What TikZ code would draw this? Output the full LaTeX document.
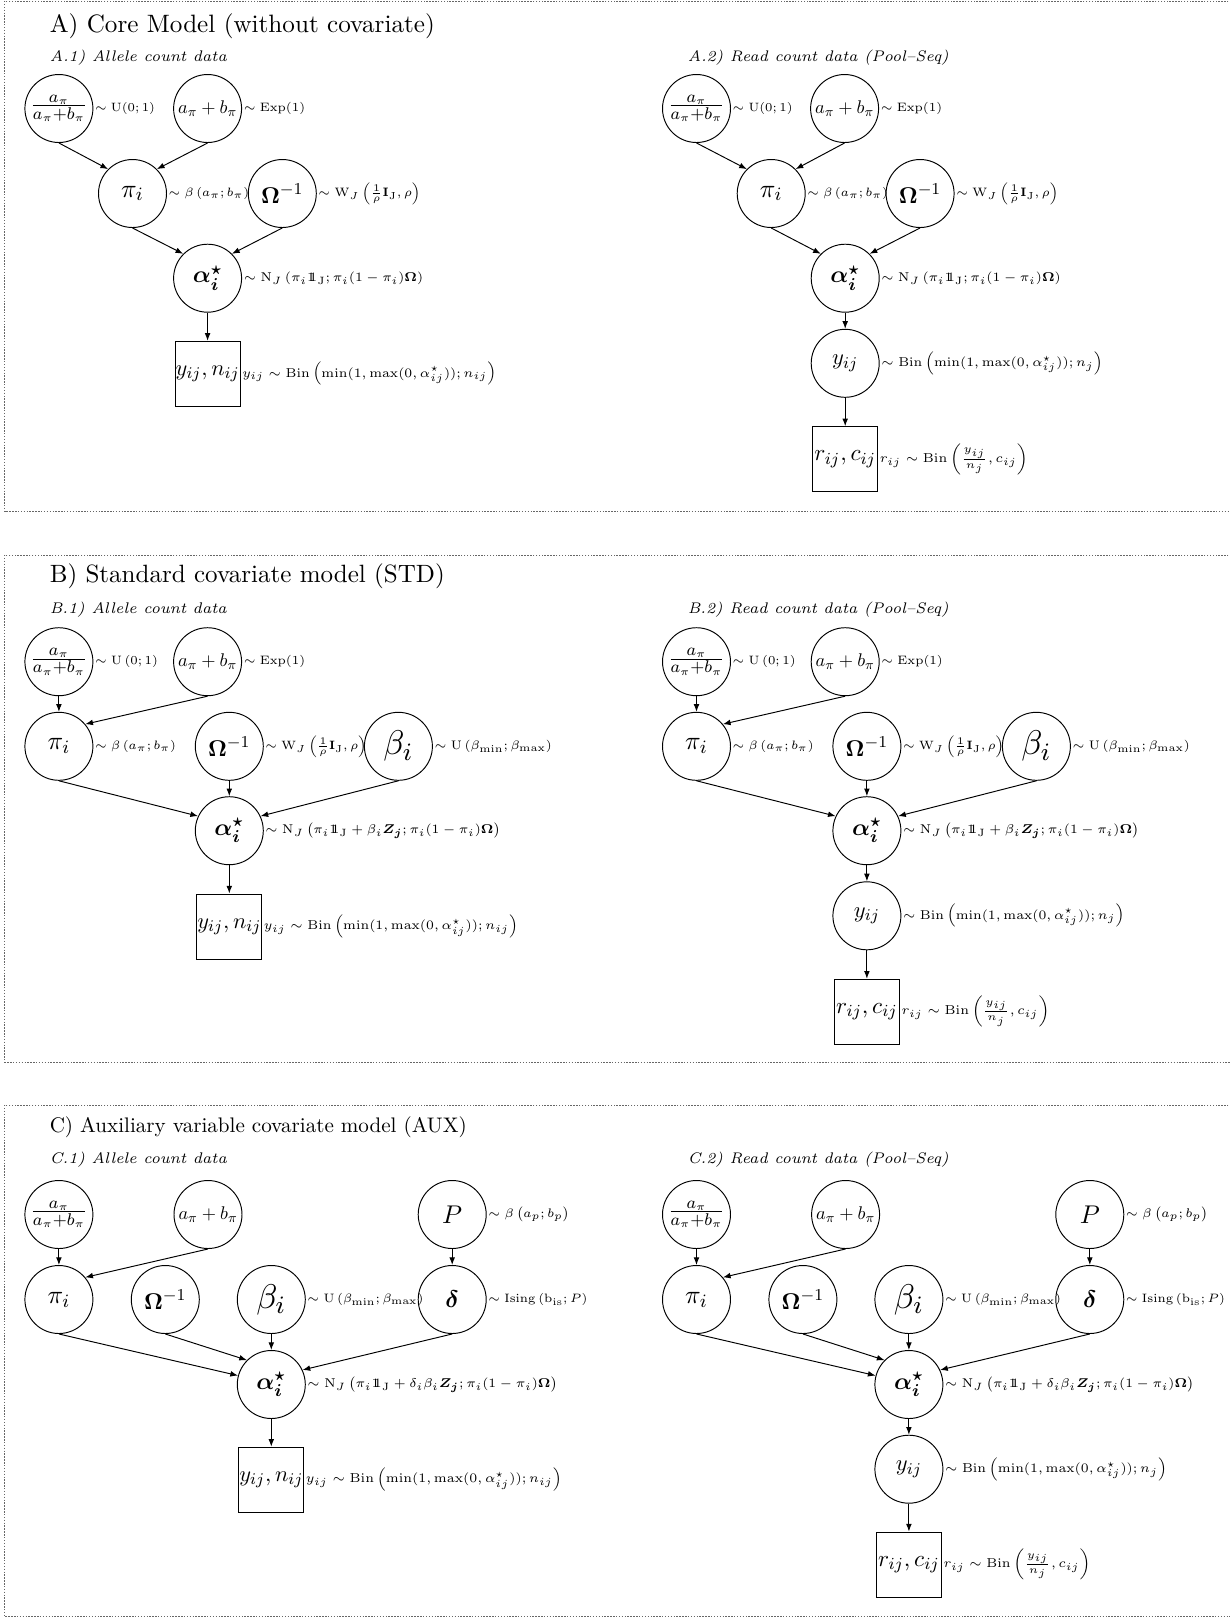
\documentclass[tikz,border=0pt]{standalone}
\usepackage{amsmath}
\usepackage{graphicx}
\usetikzlibrary{arrows.meta}
\newdimen\mypx \mypx=0.41667pt
\newcommand{\fw}[2]{\resizebox{#1\mypx}{!}{#2}}
\newcommand{\myfs}[1]{\fontsize{#1}{#1}\selectfont}
\newcommand{\bbone}{\mathrm{1\!\!1}}
\newcommand{\LUa}{$\sim\mathrm{U}(0;1)$}
\newcommand{\LUb}{$\sim\mathrm{U}\left(0;1\right)$}
\newcommand{\LExp}{$\sim\mathrm{Exp}(1)$}
\newcommand{\LBeta}{$\sim\beta\left(a_\pi;b_\pi\right)$}
\newcommand{\LW}{$\sim\mathrm{W}_J\left(\frac{1}{\rho}\mathbf{I}_\mathrm{J},\rho\right)$}
\newcommand{\LNa}{$\sim\mathrm{N}_J\left(\pi_i\bbone_\mathrm{J};\pi_i(1-\pi_i)\boldsymbol{\Omega}\right)$}
\newcommand{\LNb}{$\sim\mathrm{N}_J\left(\pi_i\bbone_\mathrm{J}+\beta_i\boldsymbol{Z_j};\pi_i(1-\pi_i)\boldsymbol{\Omega}\right)$}
\newcommand{\LNc}{$\sim\mathrm{N}_J\left(\pi_i\bbone_\mathrm{J}+\delta_i\beta_i\boldsymbol{Z_j};\pi_i(1-\pi_i)\boldsymbol{\Omega}\right)$}
\newcommand{\LBinA}{$y_{ij}\sim\mathrm{Bin}\left(\min(1,\max(0,\alpha^\star_{ij}));n_{ij}\right)$}
\newcommand{\LBinB}{$\sim\mathrm{Bin}\left(\min(1,\max(0,\alpha^\star_{ij}));n_j\right)$}
\newcommand{\LR}{$r_{ij}\sim\mathrm{Bin}\left(\frac{y_{ij}}{n_j},c_{ij}\right)$}
\newcommand{\LUbeta}{$\sim\mathrm{U}\left(\beta_{\min};\beta_{\max}\right)$}
\newcommand{\LP}{$\sim\beta\left(a_p;b_p\right)$}
\newcommand{\LIsing}{$\sim\mathrm{Ising}\left(\mathrm{b_{is}};P\right)$}
\newcommand{\TFrac}{\fw{57}{$\frac{a_\pi}{a_\pi+b_\pi}$}}
\newcommand{\TAB}{\fw{59}{$a_\pi+b_\pi$}}
\newcommand{\TPi}{\fw{22.7}{$\pi_i$}}
\newcommand{\TOm}{\fw{42.5}{$\boldsymbol{\Omega}^{-1}$}}
\newcommand{\TAl}{\fw{29.7}{$\boldsymbol{\alpha_i^\star}$}}
\newcommand{\TYN}{\fw{64}{$y_{ij},n_{ij}$}}
\newcommand{\TY}{\fw{26}{$y_{ij}$}}
\newcommand{\TRC}{\fw{61.5}{$r_{ij},c_{ij}$}}
\newcommand{\TBe}{\fw{30}{$\beta_i$}}
\newcommand{\TP}{\fw{20}{$P$}}
\newcommand{\TDe}{\fw{13.5}{$\boldsymbol{\delta}$}}
\begin{document}
\begin{tikzpicture}[x=0.41667pt,y=-0.41667pt,
 lat/.style={draw,circle,minimum size=28.33pt,inner sep=0pt,font=\myfs{11}},
 obs/.style={draw,rectangle,minimum size=27.08pt,inner sep=0pt,font=\myfs{11}},
 lbl/.style={anchor=west,inner sep=0.5pt,font=\myfs{6}},
 ttl/.style={anchor=base west,inner sep=0pt,font=\myfs{10}},
 subt/.style={anchor=base west,inner sep=0pt,font=\myfs{7}\itshape},
 edge/.style={-{Latex[length=3.2pt,width=2.4pt]}},
 panel/.style={draw=black!60,line width=0.3pt,dash pattern=on 0.6pt off 0.6pt}]
\useasboundingbox (0,0) rectangle (1230,1618);

% ---------- panel frames
\draw[panel] (1240,1) -- (4.5,1) -- (4.5,511.7) -- (1240,511.7);
\draw[panel] (1240,555) -- (4.5,555) -- (4.5,1062) -- (1240,1062);
\draw[panel] (1240,1105) -- (4.5,1105) -- (4.5,1616.7) -- (1240,1616.7);

% ================= A =================
\node[ttl] (tA) at (49.3,32) {\fw{385}{A) Core Model (without covariate)}};
\node[subt] (sA1) at (49.3,61.5) {\fw{177}{A.1) Allele count data}};
\node[subt] (sA2) at (687.3,61.5) {\fw{261}{A.2) Read count data (Pool--Seq)}};

% A.1
\node[lat] (fA1) at (58.9,108.5) {\TFrac};
\node[lat] (bA1) at (207.6,108.5) {\TAB};
\node[lat] (pA1) at (132.5,193.5) {\TPi};
\node[lat] (oA1) at (282.3,193.5) {\TOm};
\node[lat] (aA1) at (207.6,278.2) {\TAl};
\node[obs] (dA1) at (207.6,373.8) {\TYN};
\node[lbl] (lfA1) at (fA1.east) {\fw{60}{\LUa}};
\node[lbl] (lbA1) at (bA1.east) {\fw{61.5}{\LExp}};
\node[lbl] (lpA1) at (pA1.east) {\fw{80.5}{\LBeta}};
\node[lbl] (loA1) at (oA1.east) {\fw{102}{\LW}};
\node[lbl] (laA1) at (aA1.east) {\fw{179.5}{\LNa}};
\node[lbl] (ldA1) at (dA1.east) {\fw{254}{\LBinA}};
\draw[edge] (fA1.south) -- (pA1.north west);
\draw[edge] (bA1.south) -- (pA1.north east);
\draw[edge] (pA1.south) -- (aA1.north west);
\draw[edge] (oA1.south) -- (aA1.north east);
\draw[edge] (aA1.south) -- (dA1.north);

% A.2
\node[lat] (fA2) at (696.5,108.5) {\TFrac};
\node[lat] (bA2) at (844.6,108.5) {\TAB};
\node[lat] (pA2) at (771.2,193.5) {\TPi};
\node[lat] (oA2) at (920.1,193.5) {\TOm};
\node[lat] (aA2) at (845.2,278.2) {\TAl};
\node[lat] (yA2) at (845.2,363.3) {\TY};
\node[obs] (dA2) at (845.2,459.2) {\TRC};
\node[lbl] (lfA2) at (fA2.east) {\fw{60}{\LUa}};
\node[lbl] (lbA2) at (bA2.east) {\fw{61.5}{\LExp}};
\node[lbl] (lpA2) at (pA2.east) {\fw{80.5}{\LBeta}};
\node[lbl] (loA2) at (oA2.east) {\fw{102}{\LW}};
\node[lbl] (laA2) at (aA2.east) {\fw{179.5}{\LNa}};
\node[lbl] (lyA2) at (yA2.east) {\fw{221.5}{\LBinB}};
\node[lbl] (ldA2) at (dA2.east) {\fw{148}{\LR}};
\draw[edge] (fA2.south) -- (pA2.north west);
\draw[edge] (bA2.south) -- (pA2.north east);
\draw[edge] (pA2.south) -- (aA2.north west);
\draw[edge] (oA2.south) -- (aA2.north east);
\draw[edge] (aA2.south) -- (yA2.north);
\draw[edge] (yA2.south) -- (dA2.north);

% ================= B =================
\node[ttl] (tB) at (49.3,582) {\fw{395}{B) Standard covariate model (STD)}};
\node[subt] (sB1) at (49.3,613) {\fw{177}{B.1) Allele count data}};
\node[subt] (sB2) at (687.3,613) {\fw{261}{B.2) Read count data (Pool--Seq)}};

% B.1
\node[lat] (fB1) at (58.9,661.7) {\TFrac};
\node[lat] (bB1) at (207.6,661.7) {\TAB};
\node[lat] (pB1) at (58.9,746.3) {\TPi};
\node[lat] (oB1) at (229.3,746.3) {\TOm};
\node[lat] (eB1) at (398.4,746.3) {\TBe};
\node[lat] (aB1) at (229.3,830.7) {\TAl};
\node[obs] (dB1) at (229.3,926.5) {\TYN};
\node[lbl] (lfB1) at (fB1.east) {\fw{63}{\LUb}};
\node[lbl] (lbB1) at (bB1.east) {\fw{61.5}{\LExp}};
\node[lbl] (lpB1) at (pB1.east) {\fw{81}{\LBeta}};
\node[lbl] (loB1) at (oB1.east) {\fw{101}{\LW}};
\node[lbl] (leB1) at (eB1.east) {\fw{117.4}{\LUbeta}};
\node[lbl] (laB1) at (aB1.east) {\fw{235}{\LNb}};
\node[lbl] (ldB1) at (dB1.east) {\fw{254}{\LBinA}};
\draw[edge] (fB1.south) -- (pB1.north);
\draw[edge] (bB1.south) -- (pB1.40);
\draw[edge] (pB1.south) -- (aB1.155);
\draw[edge] (oB1.south) -- (aB1.north);
\draw[edge] (eB1.south) -- (aB1.25);
\draw[edge] (aB1.south) -- (dB1.north);

% B.2
\node[lat] (fB2) at (696.5,661.7) {\TFrac};
\node[lat] (bB2) at (845.2,661.7) {\TAB};
\node[lat] (pB2) at (696.5,746.3) {\TPi};
\node[lat] (oB2) at (866.9,746.3) {\TOm};
\node[lat] (eB2) at (1036.4,746.3) {\TBe};
\node[lat] (aB2) at (866.9,830.7) {\TAl};
\node[lat] (yB2) at (866.9,915.8) {\TY};
\node[obs] (dB2) at (866.9,1011.7) {\TRC};
\node[lbl] (lfB2) at (fB2.east) {\fw{63}{\LUb}};
\node[lbl] (lbB2) at (bB2.east) {\fw{61.5}{\LExp}};
\node[lbl] (lpB2) at (pB2.east) {\fw{81}{\LBeta}};
\node[lbl] (loB2) at (oB2.east) {\fw{101}{\LW}};
\node[lbl] (leB2) at (eB2.east) {\fw{117.4}{\LUbeta}};
\node[lbl] (laB2) at (aB2.east) {\fw{236}{\LNb}};
\node[lbl] (lyB2) at (yB2.east) {\fw{221.5}{\LBinB}};
\node[lbl] (ldB2) at (dB2.east) {\fw{148}{\LR}};
\draw[edge] (fB2.south) -- (pB2.north);
\draw[edge] (bB2.south) -- (pB2.40);
\draw[edge] (pB2.south) -- (aB2.155);
\draw[edge] (oB2.south) -- (aB2.north);
\draw[edge] (eB2.south) -- (aB2.25);
\draw[edge] (aB2.south) -- (yB2.north);
\draw[edge] (yB2.south) -- (dB2.north);

% ================= C =================
\node[ttl] (tC) at (49.3,1132) {\fw{417}{C) Auxiliary variable covariate model (AUX)}};
\node[subt] (sC1) at (49.3,1163) {\fw{177}{C.1) Allele count data}};
\node[subt] (sC2) at (687.3,1163) {\fw{261}{C.2) Read count data (Pool--Seq)}};

% C.1
\node[lat] (fC1) at (58.9,1214.5) {\TFrac};
\node[lat] (bC1) at (208,1214.5) {\TAB};
\node[lat] (PC1) at (452.2,1214.5) {\TP};
\node[lat] (pC1) at (58.9,1299.5) {\TPi};
\node[lat] (oC1) at (165.3,1299.5) {\TOm};
\node[lat] (eC1) at (271.3,1299.5) {\TBe};
\node[lat] (gC1) at (452.2,1299.5) {\TDe};
\node[lat] (aC1) at (271.3,1384.5) {\TAl};
\node[obs] (dC1) at (271.3,1479.7) {\TYN};
\node[lbl] (lPC1) at (PC1.east) {\fw{81}{\LP}};
\node[lbl] (leC1) at (eC1.east) {\fw{116}{\LUbeta}};
\node[lbl] (lgC1) at (gC1.east) {\fw{99}{\LIsing}};
\node[lbl] (laC1) at (aC1.east) {\fw{250}{\LNc}};
\node[lbl] (ldC1) at (dC1.east) {\fw{256}{\LBinA}};
\draw[edge] (fC1.south) -- (pC1.north);
\draw[edge] (bC1.south) -- (pC1.40);
\draw[edge] (PC1.south) -- (gC1.north);
\draw[edge] (pC1.south) -- (aC1.165);
\draw[edge] (oC1.south) -- (aC1.north west);
\draw[edge] (eC1.south) -- (aC1.north);
\draw[edge] (gC1.south) -- (aC1.25);
\draw[edge] (aC1.south) -- (dC1.north);

% C.2
\node[lat] (fC2) at (696.5,1214.5) {\TFrac};
\node[lat] (bC2) at (845.6,1214.5) {\TAB};
\node[lat] (PC2) at (1089.8,1214.5) {\TP};
\node[lat] (pC2) at (696.5,1299.5) {\TPi};
\node[lat] (oC2) at (802.9,1299.5) {\TOm};
\node[lat] (eC2) at (908.9,1299.5) {\TBe};
\node[lat] (gC2) at (1089.8,1299.5) {\TDe};
\node[lat] (aC2) at (908.9,1384.5) {\TAl};
\node[lat] (yC2) at (908.9,1469.2) {\TY};
\node[obs] (dC2) at (908.9,1564.5) {\TRC};
\node[lbl] (lPC2) at (PC2.east) {\fw{82}{\LP}};
\node[lbl] (leC2) at (eC2.east) {\fw{116}{\LUbeta}};
\node[lbl] (lgC2) at (gC2.east) {\fw{99}{\LIsing}};
\node[lbl] (laC2) at (aC2.east) {\fw{249}{\LNc}};
\node[lbl] (lyC2) at (yC2.east) {\fw{222}{\LBinB}};
\node[lbl] (ldC2) at (dC2.east) {\fw{147}{\LR}};
\draw[edge] (fC2.south) -- (pC2.north);
\draw[edge] (bC2.south) -- (pC2.40);
\draw[edge] (PC2.south) -- (gC2.north);
\draw[edge] (pC2.south) -- (aC2.165);
\draw[edge] (oC2.south) -- (aC2.north west);
\draw[edge] (eC2.south) -- (aC2.north);
\draw[edge] (gC2.south) -- (aC2.25);
\draw[edge] (aC2.south) -- (yC2.north);
\draw[edge] (yC2.south) -- (dC2.north);
\end{tikzpicture}
\end{document}
